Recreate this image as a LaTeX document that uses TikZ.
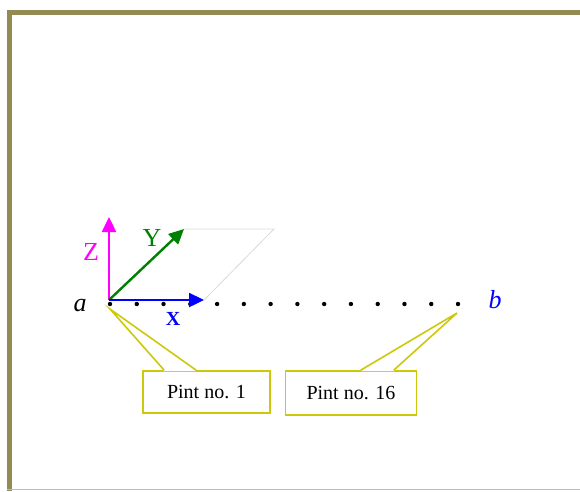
\documentclass[tikz,border=0pt]{standalone}
\usepackage{fontspec}
\setmainfont{Liberation Serif}
\usetikzlibrary{arrows.meta, positioning, calc}

\definecolor{frameolive}{RGB}{148,138,84}
\definecolor{framelight}{RGB}{196,190,158}
\definecolor{calloutyellow}{RGB}{206,200,10}
\definecolor{axisgreen}{RGB}{0,128,0}
\definecolor{axismagenta}{RGB}{255,0,255}

\begin{document}
\begin{tikzpicture}[
        x=1pt, y=-1pt,
        >=Stealth,
        axis/.style={
            line width=2.4pt,
            -{Triangle[length=15pt, width=14pt]}
        },
        pnt/.style={
            circle,
            fill=black,
            inner sep=0pt,
            minimum size=4.4pt
        },
        callout/.style={
            rectangle,
            draw=calloutyellow,
            line width=1.6pt,
            fill=white,
            inner sep=0pt,
            font=\fontsize{20}{24}\selectfont
        },
        lbl/.style={
            inner sep=0pt,
            font=\fontsize{26}{30}\selectfont
        }
    ]
    \useasboundingbox (0,0) rectangle (580,491);

    % cornice
    \draw[frameolive, line width=5pt] (9,491) -- (9,12) -- (580,12);
    \draw[framelight, line width=1pt] (7,489.5) -- (580,489.5);

    % punti sulla linea da a a b
    \foreach \i in {0,...,13}
        \node[pnt] (d\i) at (110+26.77*\i, 304) {};

    % assi locali
    \coordinate (O) at (109,300);
    \coordinate (xtip) at (204,300);
    \coordinate (ytip) at (184,229);
    \coordinate (ztip) at (109,217);
    \coordinate (pc) at (274,229);
    \draw[black!15, line width=0.8pt] (ytip) -- (pc) -- (xtip);
    \draw[axis, axismagenta] (O) -- (ztip);
    \draw[axis, axisgreen] (O) -- (ytip);
    \draw[axis, blue] (O) -- (xtip);

    \node[lbl, axismagenta] (zl) at (91,252) {Z};
    \node[lbl, axisgreen] (yl) at (152,238) {Y};
    \node[inner sep=0pt, blue, font=\fontsize{20}{24}\selectfont\bfseries] (xl) at (173,319) {X};
    \node[lbl] (al) at (80,306) {\textit{a}};
    \node[lbl, blue] (bl) at (495,300) {\textit{b}};

    % riquadri
    \node[callout, minimum width=127pt, minimum height=42pt] (c1) at (206.5,392) {Pint no. 1};
    \node[callout, minimum width=131pt, minimum height=44pt] (c2) at (351,393) {Pint no. 16};

    \coordinate (t1) at ($(d0)+(0,5)$);
    \coordinate (t2) at ($(d13)+(-1,9)$);
    \fill[white] ($(c1.north west)+(22,1)$) -- (t1) -- ($(c1.north west)+(54,1)$) -- cycle;
    \draw[calloutyellow, line width=1.6pt] ($(c1.north west)+(22,0)$) -- (t1) -- ($(c1.north west)+(54,0)$);
    \fill[white] ($(c2.north west)+(76,1)$) -- (t2) -- ($(c2.north west)+(109,1)$) -- cycle;
    \draw[calloutyellow, line width=1.6pt] ($(c2.north west)+(76,0)$) -- (t2) -- ($(c2.north west)+(109,0)$);

\end{tikzpicture}
\end{document}
